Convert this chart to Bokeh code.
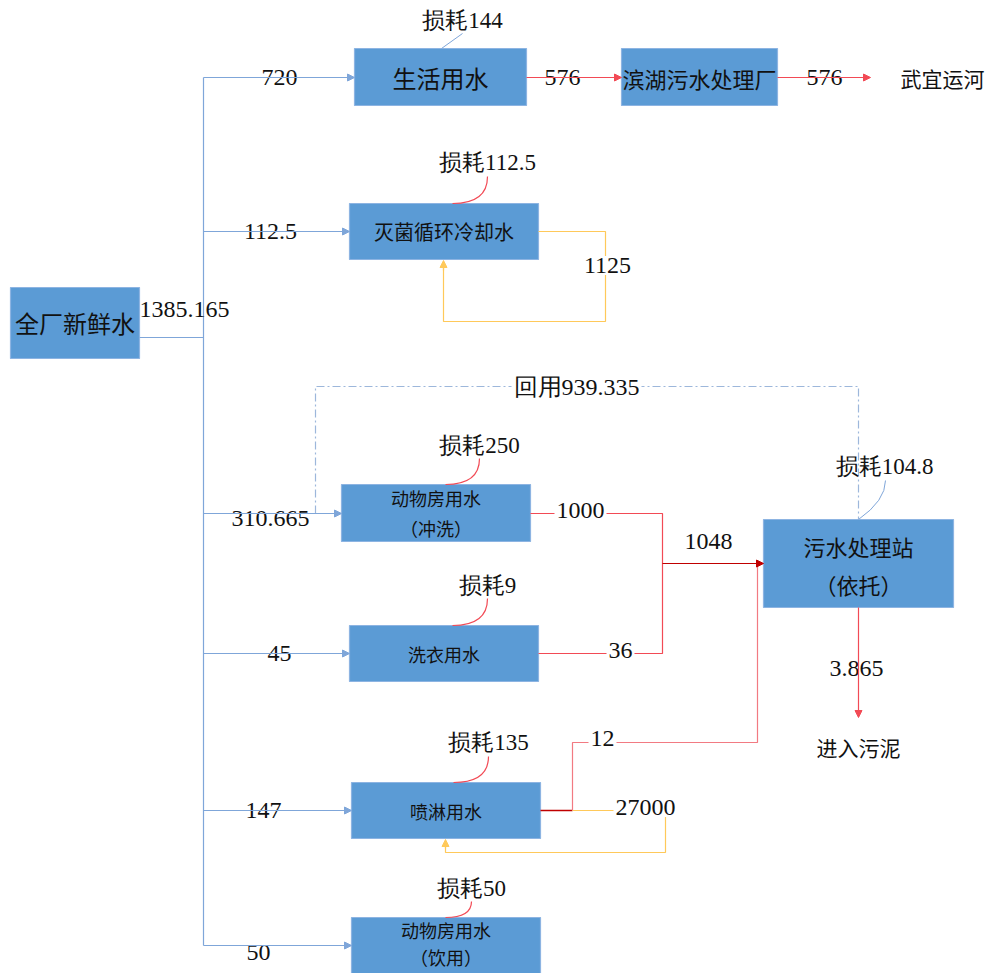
from bokeh.plotting import figure
from bokeh.models import Range1d, ColumnDataSource, Arrow, NormalHead
from bokeh.core.properties import value
from bokeh.embed import file_html
from bokeh.resources import INLINE

# ---------------- data ----------------
source_name = "全厂新鲜水"
fresh_total = "1385.165"
user_names = ["生活用水", "灭菌循环冷却水", "动物房用水\n（冲洗）", "洗衣用水", "喷淋用水", "动物房用水\n（饮用）"]
fresh_branches = ["720", "112.5", "310.665", "45", "147", "50"]
loss_values = ["144", "112.5", "250", "9", "135", "50"]
plant_name = "滨湖污水处理厂"
river_name = "武宜运河"
station_name = "污水处理站\n（依托）"
sludge_name = "进入污泥"
domestic_out = ["576", "576"]
wash_out = ["1000", "36"]
station_in = "1048"
spray_out = "12"
recycle_values = ["1125", "27000"]
station_loss = "104.8"
sludge_value = "3.865"
reuse_value = "939.335"

# ---------------- layout (picture pixels) ----------------
BOX = "#5B9BD5"
BOX_EDGE = "#8DB4E2"
BLUE = "#7FA6D9"
RED = "#F24A55"
DARKRED = "#C00000"
PINK = "#F27A82"
YEL = "#FFC95A"
DASH = "#9DB7DB"
NUM_FONT = value("Liberation Serif")
CJK_FONT = value("Noto Sans CJK SC")
NUM_SIZE = "24px"

W, H = 991, 973
p = figure(width=W, height=H, output_backend="svg", toolbar_location=None,
           x_range=Range1d(0, W), y_range=Range1d(H, 0),
           x_axis_type=None, y_axis_type=None, min_border=0)
p.grid.visible = False
p.outline_line_color = None
p.background_fill_color = "white"

# boxes: left, right, top, bottom, text y, font size, line spacing
src_box = (10, 139, 287, 358, 322, "24px", 0)
user_boxes = [
    (354, 526, 48, 105, 77, "24px", 0),
    (349, 538, 203, 259, 231, "20px", 0),
    (341, 530, 484, 541, 512, "18px", 30),
    (349, 538, 625, 681, 653, "18px", 0),
    (351, 540, 782, 838, 810, "18px", 0),
    (351, 540, 917, 990, 943, "18px", 27),
]
plant_box = (621, 777, 48, 105, 77, "22px", 0)
station_box = (763, 953, 519, 607, 564, "22px", 38)

all_boxes = [src_box] + user_boxes + [plant_box, station_box]
all_names = [source_name] + user_names + [plant_name, station_name]
p.quad(left=[b[0] for b in all_boxes], right=[b[1] for b in all_boxes],
       top=[b[2] for b in all_boxes], bottom=[b[3] for b in all_boxes],
       fill_color=BOX, line_color=BOX_EDGE, line_width=1.2)

bt = dict(x=[], y=[], text=[], fs=[])
for b, name in zip(all_boxes, all_names):
    lines = name.split("\n")
    n = len(lines)
    for k, ln in enumerate(lines):
        bt["x"].append((b[0] + b[1]) / 2)
        bt["y"].append(b[4] + (k - (n - 1) / 2) * b[6])
        bt["text"].append(ln)
        bt["fs"].append(b[5])
p.text(x="x", y="y", text="text", text_font_size="fs", source=ColumnDataSource(bt),
       text_font=CJK_FONT, text_align="center", text_baseline="middle",
       text_color="#111111")


def poly(xs, ys, color, width=1.2, dash="solid"):
    p.line(xs, ys, line_color=color, line_width=width, line_dash=dash)


def arrow(x0, y0, x1, y1, color, width=1.2):
    p.add_layout(Arrow(x_start=x0, y_start=y0, x_end=x1, y_end=y1,
                       line_color=color, line_width=width,
                       end=NormalHead(size=7, fill_color=color, line_color=color, line_width=1)))


lab = dict(x=[], y=[], text=[])


def label(x, y, t):
    lab["x"].append(x); lab["y"].append(y); lab["text"].append(t)


# fresh water trunk
trunk_x = 203
branch_y = [77, 231, 513, 653, 810, 945]
poly([src_box[1], trunk_x], [337, 337], BLUE)
poly([trunk_x, trunk_x], [branch_y[0], branch_y[-1]], BLUE)
branch_lab_x = [279, 270, 270, 279, 263, 258]
branch_lab_dy = [0, 0, 5, 0, 0, 7]
for i, ub in enumerate(user_boxes):
    arrow(trunk_x, branch_y[i], ub[0], branch_y[i], BLUE)
    label(branch_lab_x[i], branch_y[i] + branch_lab_dy[i], fresh_branches[i])

# domestic -> plant -> river
arrow(user_boxes[0][1], 77, plant_box[0], 77, RED)
label(562, 77, domestic_out[0])
arrow(plant_box[1], 77, 870, 77, RED)
label(824, 77, domestic_out[1])

# sterilisation loop
poly([538, 605, 605, 443, 443], [231, 231, 321, 321, 262], YEL)
arrow(443, 270, 443, 260, YEL)
label(607, 265, recycle_values[0])

# reuse dashed
poly([315, 315, 858, 858], [513, 386, 386, 519], DASH, dash="8 3 2 3")
label(576, 386, "回用" + reuse_value)

# washing -> station
poly([530, 662, 662, 538], [513, 513, 653, 653], RED)
label(580, 510, wash_out[0])
label(620, 650, wash_out[1])
arrow(662, 563, station_box[0], 563, DARKRED)

# spray -> station
poly([540, 572], [810, 810], DARKRED, width=1.5)
poly([572, 572, 757, 757], [810, 742, 742, 563], PINK)
label(602, 738, spray_out)
poly([572, 665, 665, 445, 445], [810, 810, 852, 852, 842], YEL)
arrow(445, 848, 445, 839, YEL)
label(645, 807, recycle_values[1])

# station -> sludge
arrow(858, station_box[3], 858, 717, RED)
label(856, 668, sludge_value)

p.text(x="x", y="y", text="text", source=ColumnDataSource(lab), text_font=NUM_FONT,
       text_font_size=NUM_SIZE, text_align="center", text_baseline="middle",
       text_color="#111111", background_fill_color="white", padding=2)

# plain texts
p.text(x=[139], y=[309], text=[fresh_total], text_font=NUM_FONT,
       text_font_size=NUM_SIZE, text_align="left", text_baseline="middle", text_color="#111111")
p.text(x=[708], y=[541], text=[station_in], text_font=NUM_FONT,
       text_font_size=NUM_SIZE, text_align="center", text_baseline="middle", text_color="#111111")
p.text(x=[942, 858], y=[77, 746], text=[river_name, sludge_name], text_font=CJK_FONT,
       text_font_size="21px", text_align="center", text_baseline="middle", text_color="#111111")

# losses
loss_text_xy = [(462, 20), (487, 162), (479, 445), (487, 585), (488, 742), (471, 888)]
loss_start = [(441, 48), (452, 203), (445, 484), (452, 625), (453, 782), (445, 917)]
loss_end = [(462, 33), (487, 176), (479, 458), (487, 598), (488, 756), (471, 901)]
p.line([loss_start[0][0], loss_end[0][0]], [loss_start[0][1], loss_end[0][1]],
       line_color=BLUE, line_width=1)
for i in range(1, 6):
    (x0, y0), (x1, y1) = loss_start[i], loss_end[i]
    p.quadratic(x0=x0, y0=y0, x1=x1, y1=y1, cx=x1, cy=y0, line_color=RED, line_width=1.2)
p.quadratic(x0=858, y0=519, x1=885, y1=480, cx=885, cy=500, line_color=BLUE, line_width=1)

ltx = [xy[0] for xy in loss_text_xy] + [884]
lty = [xy[1] for xy in loss_text_xy] + [466]
ltt = ["损耗" + v for v in loss_values] + ["损耗" + station_loss]
p.text(x=ltx, y=lty, text=ltt, text_font=NUM_FONT, text_font_size="23px",
       text_align="center", text_baseline="middle", text_color="#111111")

open("out.html", "w").write(file_html(p, INLINE))
